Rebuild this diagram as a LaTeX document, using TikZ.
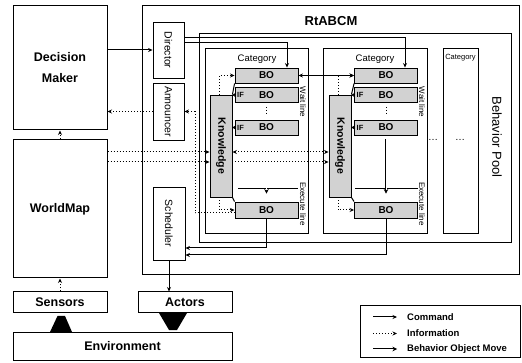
\documentclass[tikz,border=0pt]{standalone}
\usepackage{fontspec}
\setmainfont{Liberation Sans}
\usetikzlibrary{arrows.meta,positioning,calc}

\newcommand{\fsz}[1]{\fontsize{#1}{#1}\selectfont}

\begin{document}
\begin{tikzpicture}[x=1pt, y=-1pt,
  every node/.style={inner sep=0pt},
  box/.style={rectangle, draw, line width=1pt, align=center, font=\bfseries\fontsize{12.5}{21}\selectfont},
  unit/.style={rectangle, draw, line width=0.9pt, minimum width=31pt},
  frame/.style={rectangle, draw, line width=0.8pt},
  bo/.style={rectangle, draw, line width=0.9pt, fill=gray!35, minimum width=63pt, minimum height=15pt, font=\bfseries\fsz{10}},
  know/.style={rectangle, draw, line width=0.9pt, fill=gray!35, minimum width=22pt, minimum height=102pt},
  vtxt/.style={rotate=-90, font=\fsz{10.5}},
  lbl/.style={rotate=-90, font=\fsz{8}},
  iftxt/.style={font=\bfseries\fsz{7.5}},
  legtxt/.style={anchor=west, font=\bfseries\fsz{9.5}},
  cmd/.style={-{Stealth[length=4.5pt,width=4pt]}, line width=1pt},
  info/.style={-{Stealth[length=4.5pt,width=4pt]}, line width=1pt, dotted},
  move/.style={-{Stealth[length=4.5pt,width=4.5pt]}, double, double distance=0.7pt, line width=0.6pt},
  both/.style={{Stealth[length=4.5pt,width=4pt]}-{Stealth[length=4.5pt,width=4pt]}},
  short/.style={-{Stealth[length=3pt,width=4pt]}, line width=1pt},
  more/.style={line width=1pt, dotted},
]
\useasboundingbox (0,0) rectangle (522,363);

% outside world
\node[box, minimum width=94pt, minimum height=124pt] (dm) at (60,68) {Decision\\Maker};
\node[box, minimum width=94pt, minimum height=138pt] (wm) at (60,209) {WorldMap};
\node[box, minimum width=94pt, minimum height=21pt] (sens) at (60,302.5) {Sensors};
\node[box, minimum width=94pt, minimum height=21pt] (act) at (185,302.5) {Actors};
\node[box, minimum width=219pt, minimum height=28pt] (env) at (122.5,346) {Environment};
\fill (50,332) -- (57.5,316) -- (65,316) -- (72,332) -- cycle;
\fill (159,313) -- (187,313) -- (177,330) -- (169,330) -- cycle;

% RtABCM frame and its units
\node[frame, line width=1pt, minimum width=377pt, minimum height=269pt] (rt) at (330.5,140.5) {};
\node[font=\bfseries\fsz{13}] (rttl) at (331,21) {RtABCM};
\node[unit, minimum height=56pt] (dir) at (168.5,50) {};
\node[unit, minimum height=57pt] (ann) at (168.5,111.5) {};
\node[unit, minimum width=32pt, minimum height=73pt] (sch) at (169,223.5) {};
\node[vtxt] at (dir) {Director};
\node[vtxt] at (ann) {Announcer};
\node[vtxt] at (sch) {Scheduler};

% behavior pool
\node[frame, minimum width=312pt, minimum height=209pt] (pool) at (355,137.5) {};
\node[rotate=-90, font=\fsz{13}] at (497,137) {Behavior Pool};
\node[frame, minimum width=103pt, minimum height=185pt] (cat1) at (256.5,140.5) {};
\node[frame, minimum width=104pt, minimum height=185pt] (cat2) at (375,140.5) {};
\node[frame, minimum width=35pt, minimum height=185pt] (cat3) at (460.5,140.5) {};
\node[font=\fsz{9.5}] at (257,59) {Category};
\node[font=\fsz{9.5}] at (375,59) {Category};
\node[font=\fsz{7.5}] at (460.5,58) {Category};
\node at (433,140) {\dots};
\node at (460,140) {\dots};

% first category
\node[know] (k1) at (221,146) {};
\node[rotate=-90, font=\bfseries\fsz{10.5}] at (k1) {Knowledge};
\node[bo] (b1a) at (266.5,75.5) {BO};
\node[bo] (b1b) at (266.5,95) {BO};
\node[bo] (b1c) at (266.5,127.5) {BO};
\node[bo, minimum height=16pt] (b1d) at (266.5,210) {BO};
\node[iftxt] at ([xshift=6pt]b1b.west) {IF};
\node[iftxt] at ([xshift=6pt]b1c.west) {IF};
\draw[more] ([yshift=-4pt]b1b.south) -- ([yshift=4pt]b1c.north);
\draw[line width=0.8pt] (238,188) -- (298,188);
\node[lbl] at (303,102) {Wait line};
\node[lbl] at (303,204) {Execute line};

% second category
\node[know] (k2) at (340,146) {};
\node[rotate=-90, font=\bfseries\fsz{10.5}] at (k2) {Knowledge};
\node[bo] (b2a) at (386,75.5) {BO};
\node[bo] (b2b) at (386,95) {BO};
\node[bo] (b2c) at (386,127.5) {BO};
\node[bo, minimum height=16pt] (b2d) at (386,210) {BO};
\node[iftxt] at ([xshift=6pt]b2b.west) {IF};
\node[iftxt] at ([xshift=6pt]b2c.west) {IF};
\draw[more] ([yshift=-4pt]b2b.south) -- ([yshift=4pt]b2c.north);
\draw[line width=0.8pt] (355,188) -- (418,188);
\node[lbl] at (422,102) {Wait line};
\node[lbl] at (422,204) {Execute line};

% knowledge links
\draw[info] ([xshift=-2pt]k1.north) |- (b1a.west);
\draw[line width=1pt] (k1.north east) -- (b1a.south west);
\draw[info] ([xshift=-2pt]k1.south) |- (b1d.west);
\draw[line width=1pt] (k1.south east) -- (b1d.north west);
\draw[short] (b1b.west) -- (b1b.west -| k1.east);
\draw[short] (b1c.west) -- (b1c.west -| k1.east);
\draw[info] ([xshift=-2pt]k2.north) |- (b2a.west);
\draw[line width=1pt] (k2.north east) -- (b2a.south west);
\draw[info] ([xshift=-2pt]k2.south) |- (b2d.west);
\draw[line width=1pt] (k2.south east) -- (b2d.north west);
\draw[short] (b2b.west) -- (b2b.west -| k2.east);
\draw[short] (b2c.west) -- (b2c.west -| k2.east);

% commands
\draw[cmd] (dir.west -| dm.east) -- (dir.west);
\draw[cmd] ([yshift=7pt]dir.east) -| ([xshift=20.5pt]b1a.north);
\draw[cmd] ([yshift=12pt]dir.east) -| ([xshift=19pt]b2a.north);
\draw[cmd, both] (b1a.east) -- (b2a.west);
\draw[move] ([yshift=-4pt]b1c.south) -- ([yshift=8pt]b1d.north);
\draw[move] ([yshift=-4pt]b2c.south) -- ([yshift=8pt]b2d.north);
\draw[cmd] (b1d.south) |- ([yshift=-24.5pt]sch.east);
\draw[cmd] (b2d.south) |- ([yshift=-31.5pt]sch.east);
\draw[cmd] (sch.south) -- (sch.south |- act.north);

% information
\draw[info] (wm.north) -- (dm.south);
\draw[info] (sens.north) -- (wm.south);
\draw[info] (ann.west) -- (ann.west -| dm.east);
\draw[info] ([yshift=-6pt]k1.west -| wm.east) -- ([yshift=-6pt]k1.west);
\draw[info] ([yshift=-16pt]k1.west -| wm.east) -- ([yshift=-16pt]k1.west);
\draw[info, both] ([yshift=-6pt]k1.east) -- ([yshift=-6pt]k2.west);
\draw[info] ([yshift=-16pt]k1.east) -- ([yshift=-16pt]k2.west);
\coordinate (tap) at (195,213);
\draw[info] (b1d.west |- tap) -- (tap) |- (ann.east);

% legend
\node[frame, minimum width=160pt, minimum height=52pt] (leg) at (440,331) {};
\node[legtxt] (lg1) at (407,317) {Command};
\node[legtxt] (lg2) at (407,333.5) {Information};
\node[legtxt] (lg3) at (407,349) {Behavior Object Move};
\draw[cmd] ([xshift=-34pt]lg1.west) -- ([xshift=-10pt]lg1.west);
\draw[info] ([xshift=-34pt]lg2.west) -- ([xshift=-10pt]lg2.west);
\draw[move] ([xshift=-34pt]lg3.west) -- ([xshift=-10pt]lg3.west);

\end{tikzpicture}
\end{document}
